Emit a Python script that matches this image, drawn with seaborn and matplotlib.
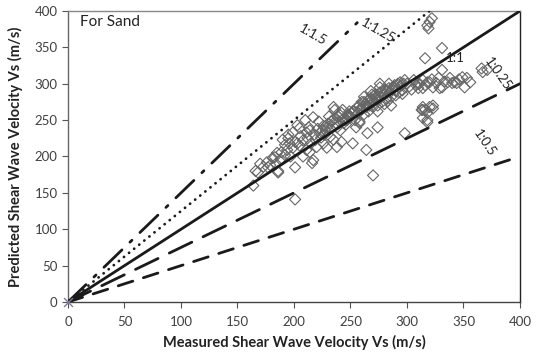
import numpy as np
import pandas as pd
import matplotlib
matplotlib.use("Agg")
import matplotlib.pyplot as plt
import seaborn as sns

# measured vs predicted Vs (m/s)
measured = [
    164, 166, 168, 170, 173, 176, 177, 179, 181, 183, 185, 186, 186, 189, 190, 192, 194, 195,
    195, 197, 199, 201, 201, 201, 203, 203, 205, 210, 211, 211, 214, 214, 216, 217, 217, 219,
    220, 223, 226, 227, 229, 232, 235, 235, 236, 238, 238, 242, 242, 243, 247, 250, 252, 258,
    264, 265, 270, 274, 276, 296, 298,
    205, 208, 212, 215, 218, 221, 224, 226, 228, 230, 232, 234, 237, 239, 240, 241, 244, 246,
    248, 249, 206, 213, 222, 231, 199, 196, 188, 184, 192, 208,
    250, 252, 254, 255, 256, 258, 258, 260, 260, 262, 262, 262, 264, 265, 266, 266, 268, 268,
    270, 270, 271, 272, 273, 274, 275, 276, 276, 278, 278, 280, 280, 282, 282, 284, 285, 286,
    287, 288, 290, 290, 292, 293, 295, 296, 298, 300, 302, 304, 306, 308, 310, 261, 269, 277,
    283, 289, 274, 286,
    245, 248, 251, 253, 257, 259, 263, 267, 269, 272, 275, 279, 281, 284, 288, 291, 294, 297,
    236, 240, 244, 229, 233, 225,
    311, 314, 314, 316, 318, 320, 322, 323, 326, 328, 329, 331, 333, 336, 338, 340, 342, 344,
    346, 349, 351, 353, 356, 331, 366, 367, 371, 316, 331, 318, 320, 322, 319, 310, 313, 314,
    314, 314, 316, 318, 318, 318, 320, 323, 323,
]
predicted = [
    160, 180, 178, 190, 186, 192, 185, 188, 198, 199, 205, 180, 178, 206, 223, 216, 209, 225,
    230, 200, 233, 220, 185, 141, 218, 243, 239, 250, 233, 209, 206, 236, 191, 195, 254, 223,
    213, 232, 218, 230, 212, 227, 223, 268, 264, 240, 213, 220, 260, 264, 250, 254, 218, 246,
    209, 232, 174, 240, 295, 291, 232,
    215, 222, 225, 218, 230, 238, 226, 242, 236, 245, 238, 250, 246, 255, 248, 236, 252, 244,
    258, 262, 228, 240, 248, 255, 212, 218, 196, 190, 202, 200,
    255, 262, 250, 240, 268, 270, 248, 265, 275, 258, 275, 282, 268, 270, 262, 278, 280, 290,
    268, 275, 284, 285, 278, 270, 278, 288, 300, 275, 290, 285, 272, 280, 290, 300, 288, 282,
    293, 295, 290, 284, 300, 288, 298, 286, 305, 300, 296, 292, 305, 298, 300, 268, 285, 282,
    276, 298, 262, 270,
    250, 256, 259, 262, 260, 266, 272, 270, 278, 280, 283, 286, 292, 294, 296, 298, 302, 300,
    252, 258, 246, 240, 248, 236,
    300, 294, 305, 298, 302, 302, 306, 295, 301, 308, 294, 295, 303, 302, 308, 301, 302, 301,
    306, 309, 295, 308, 302, 319, 321, 316, 319, 335, 349, 380, 385, 390, 376, 294, 264, 268,
    253, 264, 264, 260, 250, 247, 268, 266, 270,
]

# reference lines: label, slope, end of x range
line_labels = ["1:1.5", "1:1.25", "1:1", "1:0.25", "1:0.5"]
line_slopes = [1.5, 1.25, 1.0, 0.75, 0.5]
line_x_end = [256, 320, 400, 400, 400]
line_styles = [(0, (9, 4, 1, 4)), (0, (0.05, 2.3)), "-", (0, (9, 4.5)), (0, (5.5, 4))]

# where the line labels sit (data coords) and their angle
label_x = [217, 274, 343, 380, 369]
label_y = [367, 373, 335, 313, 218]
label_rot = [-30, -30, 0, -55, -56]

ticks = [0, 50, 100, 150, 200, 250, 300, 350, 400]

sns.set_style("white")
plt.rcParams["font.family"] = ["Lato", "DejaVu Sans"]

fig = plt.figure(figsize=(5.38, 3.54), dpi=100)
ax = fig.add_axes([0.1264, 0.1469, 0.8401, 0.8221])

df = pd.DataFrame({"measured": measured, "predicted": predicted})
sns.scatterplot(data=df, x="measured", y="predicted", ax=ax, marker="D", s=32,
                facecolor="none", edgecolor="#666666", linewidth=0.8, zorder=2)

for lab, k, xe, ls in zip(line_labels, line_slopes, line_x_end, line_styles):
    xs = np.array([0, xe])
    sns.lineplot(x=xs, y=k * xs, ax=ax, color="#1a1a1a", linewidth=2.0,
                 linestyle=ls, dash_capstyle="round", zorder=3)

for lab, lx, ly, rot in zip(line_labels, label_x, label_y, label_rot):
    ax.text(lx, ly, lab, fontsize=9.5, rotation=rot, ha="center", va="center",
            color="#222222", rotation_mode="anchor")

# the little cross at the origin
sns.scatterplot(x=[0], y=[0], ax=ax, marker="x", s=40, color="#7f7896",
                linewidth=1.0, zorder=4, clip_on=False)

ax.text(11, 385, "For Sand", fontsize=11, color="#222222", va="center", ha="left")

ax.set_xlim(0, 400)
ax.set_ylim(0, 400)
ax.set_xticks(ticks)
ax.set_yticks(ticks)
ax.tick_params(axis="both", direction="out", length=4, width=0.8, colors="#555555",
               labelsize=9.5, labelcolor="#404040", bottom=True, left=True)
ax.tick_params(axis="x", pad=6)
ax.set_xlabel("Measured Shear Wave Velocity Vs (m/s)", fontsize=10.5, fontweight="bold",
              color="#222222", labelpad=5)
ax.set_ylabel("Predicted Shear Wave Velocity Vs (m/s)", fontsize=10.5, fontweight="bold",
              color="#222222", labelpad=8)

ax.spines["left"].set_color("#666666")
ax.spines["bottom"].set_color("#444444")
ax.spines["top"].set_color("#888888")
ax.spines["right"].set_color("#222222")
for sp in ax.spines.values():
    sp.set_linewidth(1.0)
    sp.set_visible(True)

plt.savefig("out.png", dpi=100)
plt.close()
